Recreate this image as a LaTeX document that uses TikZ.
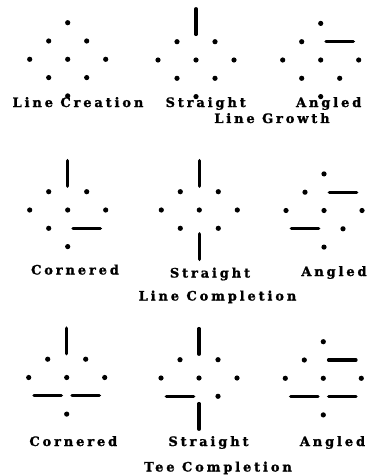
\documentclass[tikz,border=0pt]{standalone}
\usepackage{fontspec}
\setmainfont{DejaVu Serif}[LetterSpace=22,BoldFeatures={FakeBold=1.2}]
\begin{document}
\begin{tikzpicture}[x=1pt,y=-1pt,
  lbl/.style={font=\bfseries\fontsize{13}{14}\selectfont, anchor=base, inner sep=0pt},
  bar/.style={line width=3.3pt, line cap=round},
  grid/.style={x=19pt,y=-18.3pt}]
\useasboundingbox[fill=white] (0,0) rectangle (371,476);
\newcommand\dt[2]{\fill (#1,#2) circle[radius=2.6pt];}
\newcommand\vb[2]{\draw[bar] (#1,#2-0.7) -- (#1,#2+0.7);}
\newcommand\hb[2]{\draw[bar] (#1-0.72,#2) -- (#1+0.72,#2);}
% ---------- Row 1 ----------
\begin{scope}[xshift=67.7pt,yshift=-59.3pt,grid]
 \dt{0}{-2}\dt{-1}{-1}\dt{1}{-1}\dt{-2}{0}\dt{0}{0}\dt{2}{0}\dt{-1}{1}\dt{1}{1}\dt{0}{2}
\end{scope}
\begin{scope}[xshift=196pt,yshift=-60pt,grid]
 \vb{0}{-2.1}\dt{-1}{-1}\dt{1}{-1}\dt{-2}{0}\dt{0}{0}\dt{2}{0}\dt{-1}{1}\dt{1}{1}\dt{0}{2}
\end{scope}
\begin{scope}[xshift=320.7pt,yshift=-60pt,grid]
 \dt{0}{-2}\dt{-1}{-1}\hb{1}{-1}\dt{-2}{0}\dt{0}{0}\dt{2}{0}\dt{-1}{1}\dt{1}{1}\dt{0}{2}
\end{scope}
\node[lbl] (lc) at (78,107) {Line Creation};
\node[lbl] (s1) at (205.7,107) {Straight};
\node[lbl] (a1) at (328.7,107) {Angled};
\node[lbl] (lg) at (272,123) {Line Growth};
% ---------- Row 2 ----------
\begin{scope}[xshift=67.7pt,yshift=-210pt,grid]
 \vb{0}{-2}\dt{-1}{-1}\dt{1}{-1}\dt{-2}{0}\dt{0}{0}\dt{2}{0}\dt{-1}{1}\hb{1}{1}\dt{0}{2}
\end{scope}
\begin{scope}[xshift=199.3pt,yshift=-210pt,grid]
 \vb{0}{-2}\dt{-1}{-1}\dt{1}{-1}\dt{-2}{0}\dt{0}{0}\dt{2}{0}\dt{-1}{1}\dt{1}{1}\vb{0}{2}
\end{scope}
\begin{scope}[xshift=324pt,yshift=-210.5pt,grid]
 \dt{0}{-2}\dt{-1}{-1}\hb{1}{-1}\dt{-2}{0}\dt{0}{0}\dt{2}{0}\hb{-1}{1}\dt{1}{1}\dt{0}{2}
\end{scope}
\node[lbl] (c2) at (75,274.5) {Cornered};
\node[lbl] (s2) at (210,277.5) {Straight};
\node[lbl] (a2) at (334,276) {Angled};
\node[lbl] (lcp) at (217.5,300.5) {Line Completion};
% ---------- Row 3 ----------
\begin{scope}[xshift=66.7pt,yshift=-377.5pt,grid]
 \vb{0}{-2}\dt{-1}{-1}\dt{1}{-1}\dt{-2}{0}\dt{0}{0}\dt{2}{0}\hb{-1}{1}\hb{1}{1}\dt{0}{2}
\end{scope}
\begin{scope}[xshift=199pt,yshift=-378pt,grid]
 \vb{0}{-2}\dt{-1}{-1}\dt{1}{-1}\dt{-2}{0}\dt{0}{0}\dt{2}{0}\hb{-1}{1}\dt{1}{1}\vb{0}{2.1}
\end{scope}
\begin{scope}[xshift=323.3pt,yshift=-378.3pt,grid]
 \dt{0}{-2}\dt{-1}{-1}\hb{1}{-1}\dt{-2}{0}\dt{0}{0}\dt{2}{0}\hb{-1}{1}\hb{1}{1}\dt{0}{2}
\end{scope}
\node[lbl] (c3) at (73.3,446) {Cornered};
\node[lbl] (s3) at (208.5,446) {Straight};
\node[lbl] (a3) at (332.5,446) {Angled};
\node[lbl] (tc) at (218,471.5) {Tee Completion};
\end{tikzpicture}
\end{document}
